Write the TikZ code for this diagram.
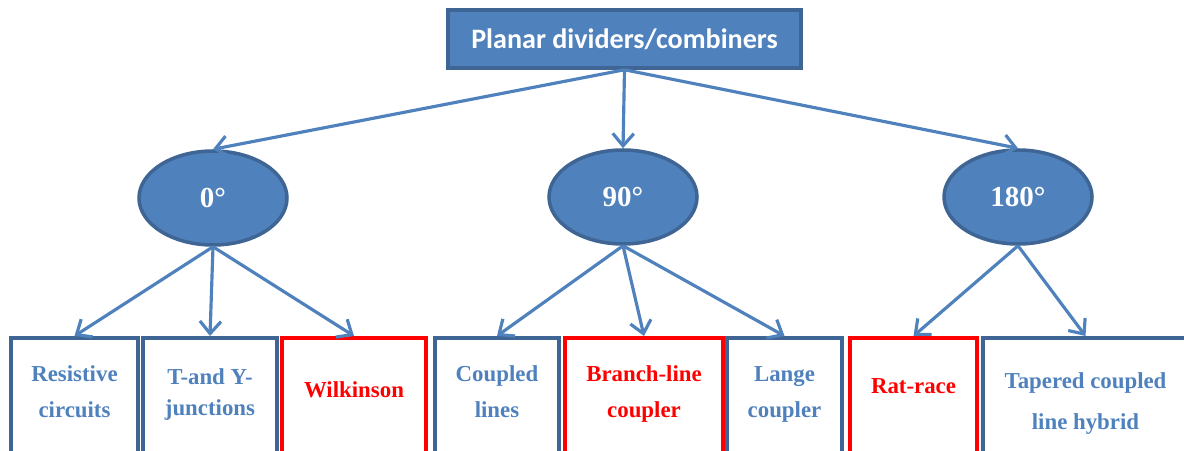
\documentclass[tikz,border=0pt]{standalone}
\usepackage{fontspec}
\setmainfont{Liberation Serif}
\newfontfamily\calibri{Carlito}
\usepackage{tikz}
\usetikzlibrary{arrows.meta,shapes.geometric}
\definecolor{ofblue}{HTML}{4F81BD}
\definecolor{ofdark}{HTML}{3F6594}
\tikzset{
  topbox/.style={draw=ofdark, fill=ofblue, line width=2pt, minimum width=7.06cm, minimum height=1.16cm, text=white, font=\calibri\bfseries\fontsize{16}{18}\selectfont},
  phase/.style={ellipse, draw=ofdark, fill=ofblue, line width=2pt, minimum width=2.96cm, minimum height=1.88cm, text=white, font=\bfseries\fontsize{16.5}{18}\selectfont},
  kind/.style={draw=ofdark, line width=2.1pt, anchor=north, minimum height=2.36cm, text depth=0.2cm, align=center, text=ofblue, font=\bfseries\fontsize{13}{20.5}\selectfont},
  chosen/.style={kind, draw=red, text=red},
  link/.style={ofblue, line width=1.8pt, -{Straight Barb[length=7pt,width=12pt]}}
}

\begin{document}
\begin{tikzpicture}
\useasboundingbox (0,0) rectangle (23.68,9);
\clip (0,0) rectangle (23.68,9);

%%%% -----------Top-------------%%%%
\node [topbox] (planar) at (12.49,8.22) {Planar dividers/combiners};

%%%----------Phases---------%%%
\node [phase] (zero) at (4.26,5.04) {0°};
\node [phase] (ninety) at (12.46,5.06) {90°};
\node [phase] (oneeighty) at (20.36,5.06) {180°};

%%%%------------Kinds----------------%%
\node [kind, minimum width=2.54cm] (resistive) at (1.49,2.28) {Resistive\\circuits};
\node [kind, minimum width=2.68cm, font=\bfseries\fontsize{13}{17.5}\selectfont] (tjunc) at (4.20,2.28) {T-and Y-\\junctions};
\node [chosen, minimum width=2.88cm, text depth=0.28cm] (wilkinson) at (7.08,2.28) {Wilkinson};
\node [kind, minimum width=2.48cm] (coupled) at (9.94,2.28) {Coupled\\lines};
\node [chosen, minimum width=3.16cm] (branch) at (12.88,2.28) {Branch-line\\coupler};
\node [kind, minimum width=2.30cm] (lange) at (15.69,2.28) {Lange\\coupler};
\node [chosen, minimum width=2.54cm, text depth=0.44cm] (ratrace) at (18.27,2.28) {Rat-race};
\node [kind, minimum width=4.10cm, font=\bfseries\fontsize{13}{23}\selectfont, text height=1.5cm] (tapered) at (21.71,2.28) {Tapered coupled\\line hybrid};

%%%-------------Arrows-------------%%%
\draw [link] (planar.south) -- (zero.north);
\draw [link] (planar.south) -- (ninety.north);
\draw [link] (planar.south) -- (oneeighty.north);

\draw [link] (zero.south) -- (resistive.north);
\draw [link] (zero.south) -- (tjunc.north);
\draw [link] (zero.south) -- (wilkinson.north);

\draw [link] (ninety.south) -- (coupled.north);
\draw [link] (ninety.south) -- (branch.north);
\draw [link] (ninety.south) -- (lange.north);

\draw [link] (oneeighty.south) -- (ratrace.north);
\draw [link] (oneeighty.south) -- (tapered.north);
\end{tikzpicture}
\end{document}
